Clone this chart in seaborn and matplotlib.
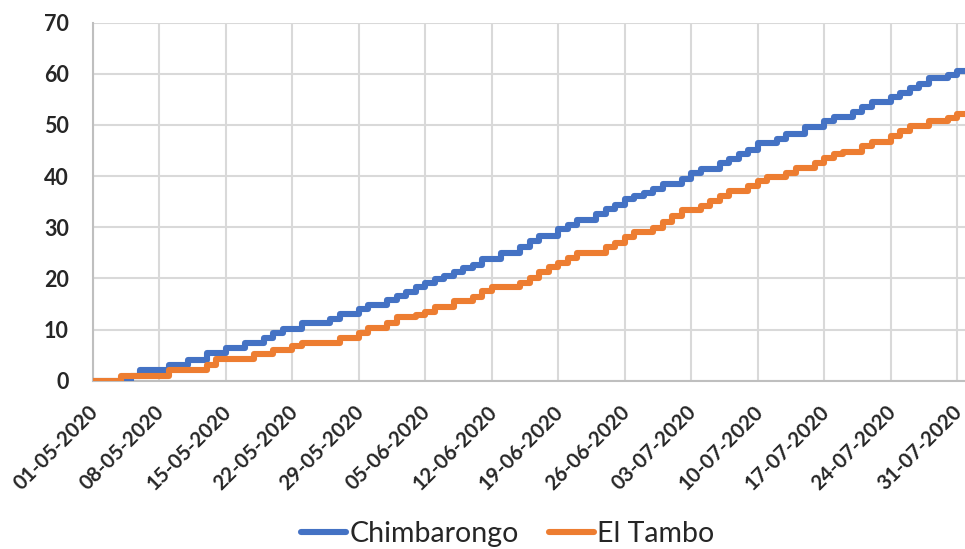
import matplotlib
matplotlib.use("Agg")
import matplotlib.pyplot as plt
import matplotlib.dates as mdates
import matplotlib.transforms as mtransforms
import numpy as np
import pandas as pd
import seaborn as sns

# Daily cumulative values, one per day from 01-05-2020 to 31-07-2020
start_date = "2020-05-01"
series_names = ["Chimbarongo", "El Tambo"]
series_colors = ["#4472C4", "#ED7D31"]

chimbarongo = [
    0, 0, 0, 0, 1.0, 2.1, 2.1, 2.1, 3.1, 3.1,
    4.1, 4.1, 5.5, 5.5, 6.3, 6.3, 7.3, 7.3, 8.3, 9.3,
    10.1, 10.1, 11.3, 11.3, 11.3, 12.0, 13.1, 13.1, 14.0, 14.8,
    14.8, 15.8, 16.5, 17.4, 18.3, 19.1, 19.9, 20.5, 21.2, 22.0,
    22.7, 23.8, 23.8, 25.0, 25.0, 26.1, 27.3, 28.3, 28.3, 29.7,
    30.5, 31.5, 31.5, 32.5, 33.5, 34.4, 35.6, 36.2, 36.7, 37.5,
    38.5, 38.5, 39.5, 40.7, 41.4, 41.4, 42.5, 43.3, 44.3, 45.2,
    46.4, 46.4, 47.2, 48.3, 48.3, 49.6, 49.6, 50.8, 51.6, 51.6,
    52.6, 53.5, 54.4, 54.4, 55.4, 56.2, 57.2, 58.1, 59.1, 59.1,
    59.8, 60.5,
]

el_tambo = [
    0, 0, 0, 1.0, 1.0, 1.0, 1.0, 1.0, 2.0, 2.0,
    2.0, 2.0, 3.1, 4.2, 4.2, 4.2, 4.2, 5.2, 5.2, 6.0,
    6.0, 6.8, 7.4, 7.4, 7.4, 7.4, 8.3, 8.3, 9.3, 10.3,
    10.3, 11.3, 12.4, 12.4, 12.9, 13.5, 14.4, 14.4, 15.5, 15.5,
    16.4, 17.5, 18.4, 18.4, 18.4, 19.1, 20.1, 21.2, 22.2, 23.0,
    24.0, 25.0, 25.0, 25.0, 26.2, 26.9, 28.1, 29.0, 29.0, 29.9,
    31.0, 32.3, 33.3, 33.3, 34.1, 35.1, 36.1, 37.1, 37.1, 38.0,
    39.0, 39.9, 39.9, 40.7, 41.6, 41.6, 42.5, 43.6, 44.3, 44.8,
    44.8, 45.9, 46.7, 46.7, 47.8, 48.8, 49.8, 49.8, 50.8, 50.8,
    51.4, 52.2,
]

tick_labels = [
    "01-05-2020", "08-05-2020", "15-05-2020", "22-05-2020", "29-05-2020",
    "05-06-2020", "12-06-2020", "19-06-2020", "26-06-2020", "03-07-2020",
    "10-07-2020", "17-07-2020", "24-07-2020", "31-07-2020",
]
y_ticks = [0, 10, 20, 30, 40, 50, 60, 70]

# Long-form table; each series gets a closing point one day later so the
# final daily step is drawn out to the end of 31-07.
frames = []
for name, values in zip(series_names, [chimbarongo, el_tambo]):
    vals = list(values) + [values[-1]]
    dates = pd.date_range(start_date, periods=len(vals), freq="D")
    frames.append(pd.DataFrame({"fecha": dates, "valor": vals, "serie": name}))
df = pd.concat(frames, ignore_index=True)

sns.set_style("white")
plt.rcParams["font.family"] = ["Lato", "DejaVu Sans"]

fig = plt.figure(figsize=(9.65, 5.49), dpi=100)
W, H = 965, 549
x0_px, y0_px, ytop_px, xr_px = 92.5, 380.7, 22.7, 965
ax = fig.add_axes([x0_px / W, 1 - y0_px / H, (xr_px - x0_px) / W, (y0_px - ytop_px) / H])

sns.lineplot(
    data=df, x="fecha", y="valor", hue="serie",
    palette=dict(zip(series_names, series_colors)),
    drawstyle="steps-post", linewidth=4.4, estimator=None,
    ax=ax, legend=True, zorder=3,
)

tick_dates = [pd.to_datetime(t, format="%d-%m-%Y") for t in tick_labels]
start_num = mdates.date2num(pd.Timestamp(start_date))
ax.set_xlim(start_num, start_num + (xr_px - x0_px) / 9.5)
ax.set_ylim(0, 70)
ax.set_xticks(tick_dates)
ax.set_xticklabels(tick_labels, rotation=45, ha="right", va="center",
                   rotation_mode="anchor", fontsize=14.8, fontweight="bold")
ax.set_yticks(y_ticks)
ax.set_yticklabels([str(v) for v in y_ticks], fontsize=15.5, fontweight="bold")
ax.tick_params(axis="x", length=0, pad=20.5)
ax.tick_params(axis="y", length=0, pad=17)

# nudge the slanted date labels a little to the right of their ticks
shift = mtransforms.ScaledTranslation(2.5 / 100, 0, fig.dpi_scale_trans)
for lab in ax.get_xticklabels():
    lab.set_transform(lab.get_transform() + shift)

ax.grid(True, color="#D9D9D9", linewidth=1.5)
ax.set_axisbelow(True)
for side in ["top", "right"]:
    ax.spines[side].set_visible(False)
for side in ["left", "bottom"]:
    ax.spines[side].set_color("#BFBFBF")
    ax.spines[side].set_linewidth(1.5)
ax.set_xlabel("")
ax.set_ylabel("")

handles, labels = ax.get_legend_handles_labels()
ax.legend_.remove()
leg = fig.legend(handles, labels, loc="center", bbox_to_anchor=(507.5 / W, 1 - 534 / H),
                 ncol=2, frameon=False, fontsize=20.5, handlelength=1.6,
                 handletextpad=0.1, columnspacing=1.05)
for line in leg.get_lines():
    line.set_linewidth(4.4)
    line.set_solid_capstyle("round")

fig.savefig("out.png", dpi=100)
